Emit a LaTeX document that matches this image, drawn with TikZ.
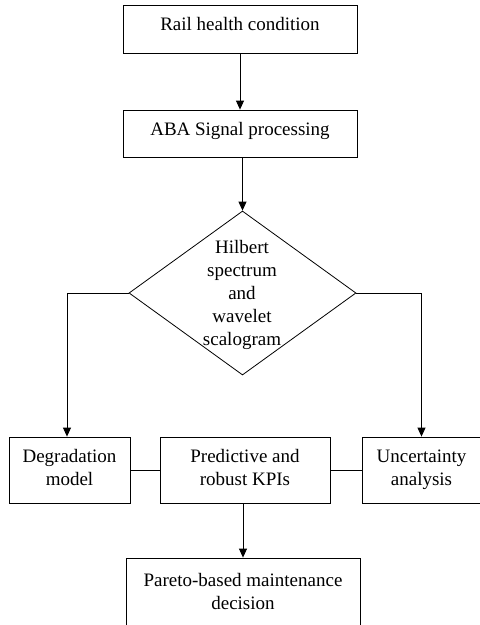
\documentclass[tikz,border=0pt]{standalone}
\usepackage{fontspec}
\setmainfont{Liberation Serif}
\usetikzlibrary{shapes.geometric,arrows.meta}
\begin{document}
\begin{tikzpicture}[x=1pt,y=-1pt,
  every node/.style={font=\fontsize{19}{23}\selectfont, inner sep=0pt},
  box/.style={draw, line width=0.8pt, align=center, text height=13pt, text depth=10pt},
  mbox/.style={draw, line width=0.8pt, align=center, text height=36pt, text depth=5pt},
  conn/.style={line width=0.8pt},
  arr/.style={line width=0.8pt, -{Triangle[length=9pt,width=8pt]}}]
\useasboundingbox (0,0) rectangle (480,625);
\clip (0,0) rectangle (480,625);
\fill[white] (0,0) rectangle (480,625);

\node[box, minimum width=234pt, minimum height=48pt] (rail) at (240,29) {Rail health condition};
\node[box, minimum width=234pt, minimum height=47pt] (aba) at (240,133.5) {ABA Signal processing};
\node[diamond, draw, line width=0.8pt, aspect=1.384, minimum width=227pt, minimum height=164pt] (hs) at (242.5,293) {};
\node[align=center] (hstext) at (242,295) {Hilbert\\spectrum\\and\\wavelet\\scalogram};
\node[mbox, minimum width=121pt, minimum height=66pt] (deg) at (69.5,470) {Degradation\\model};
\node[mbox, minimum width=170pt, minimum height=66pt] (kpi) at (245,470) {Predictive and\\robust KPIs};
\node[mbox, minimum width=119pt, minimum height=66pt] (unc) at (421.5,470) {Uncertainty\\analysis};
\node[draw, line width=0.8pt, minimum width=234pt, minimum height=84pt] (par) at (243,600) {};
\node[align=center] (partext) at (243,591) {Pareto-based maintenance\\decision};

\draw[arr] (rail.south) -- (aba.north);
\draw[arr] (aba.south -| hs.north) -- (hs.north);
\draw[arr] (hs.west) -| ([xshift=-2.5pt]deg.north);
\draw[arr] (hs.east) -| (unc.north);
\draw[conn] (deg.east) -- (kpi.west);
\draw[conn] (kpi.east) -- (unc.west);
\draw[arr] (kpi.south -| par.north) -- (par.north);
\end{tikzpicture}
\end{document}
